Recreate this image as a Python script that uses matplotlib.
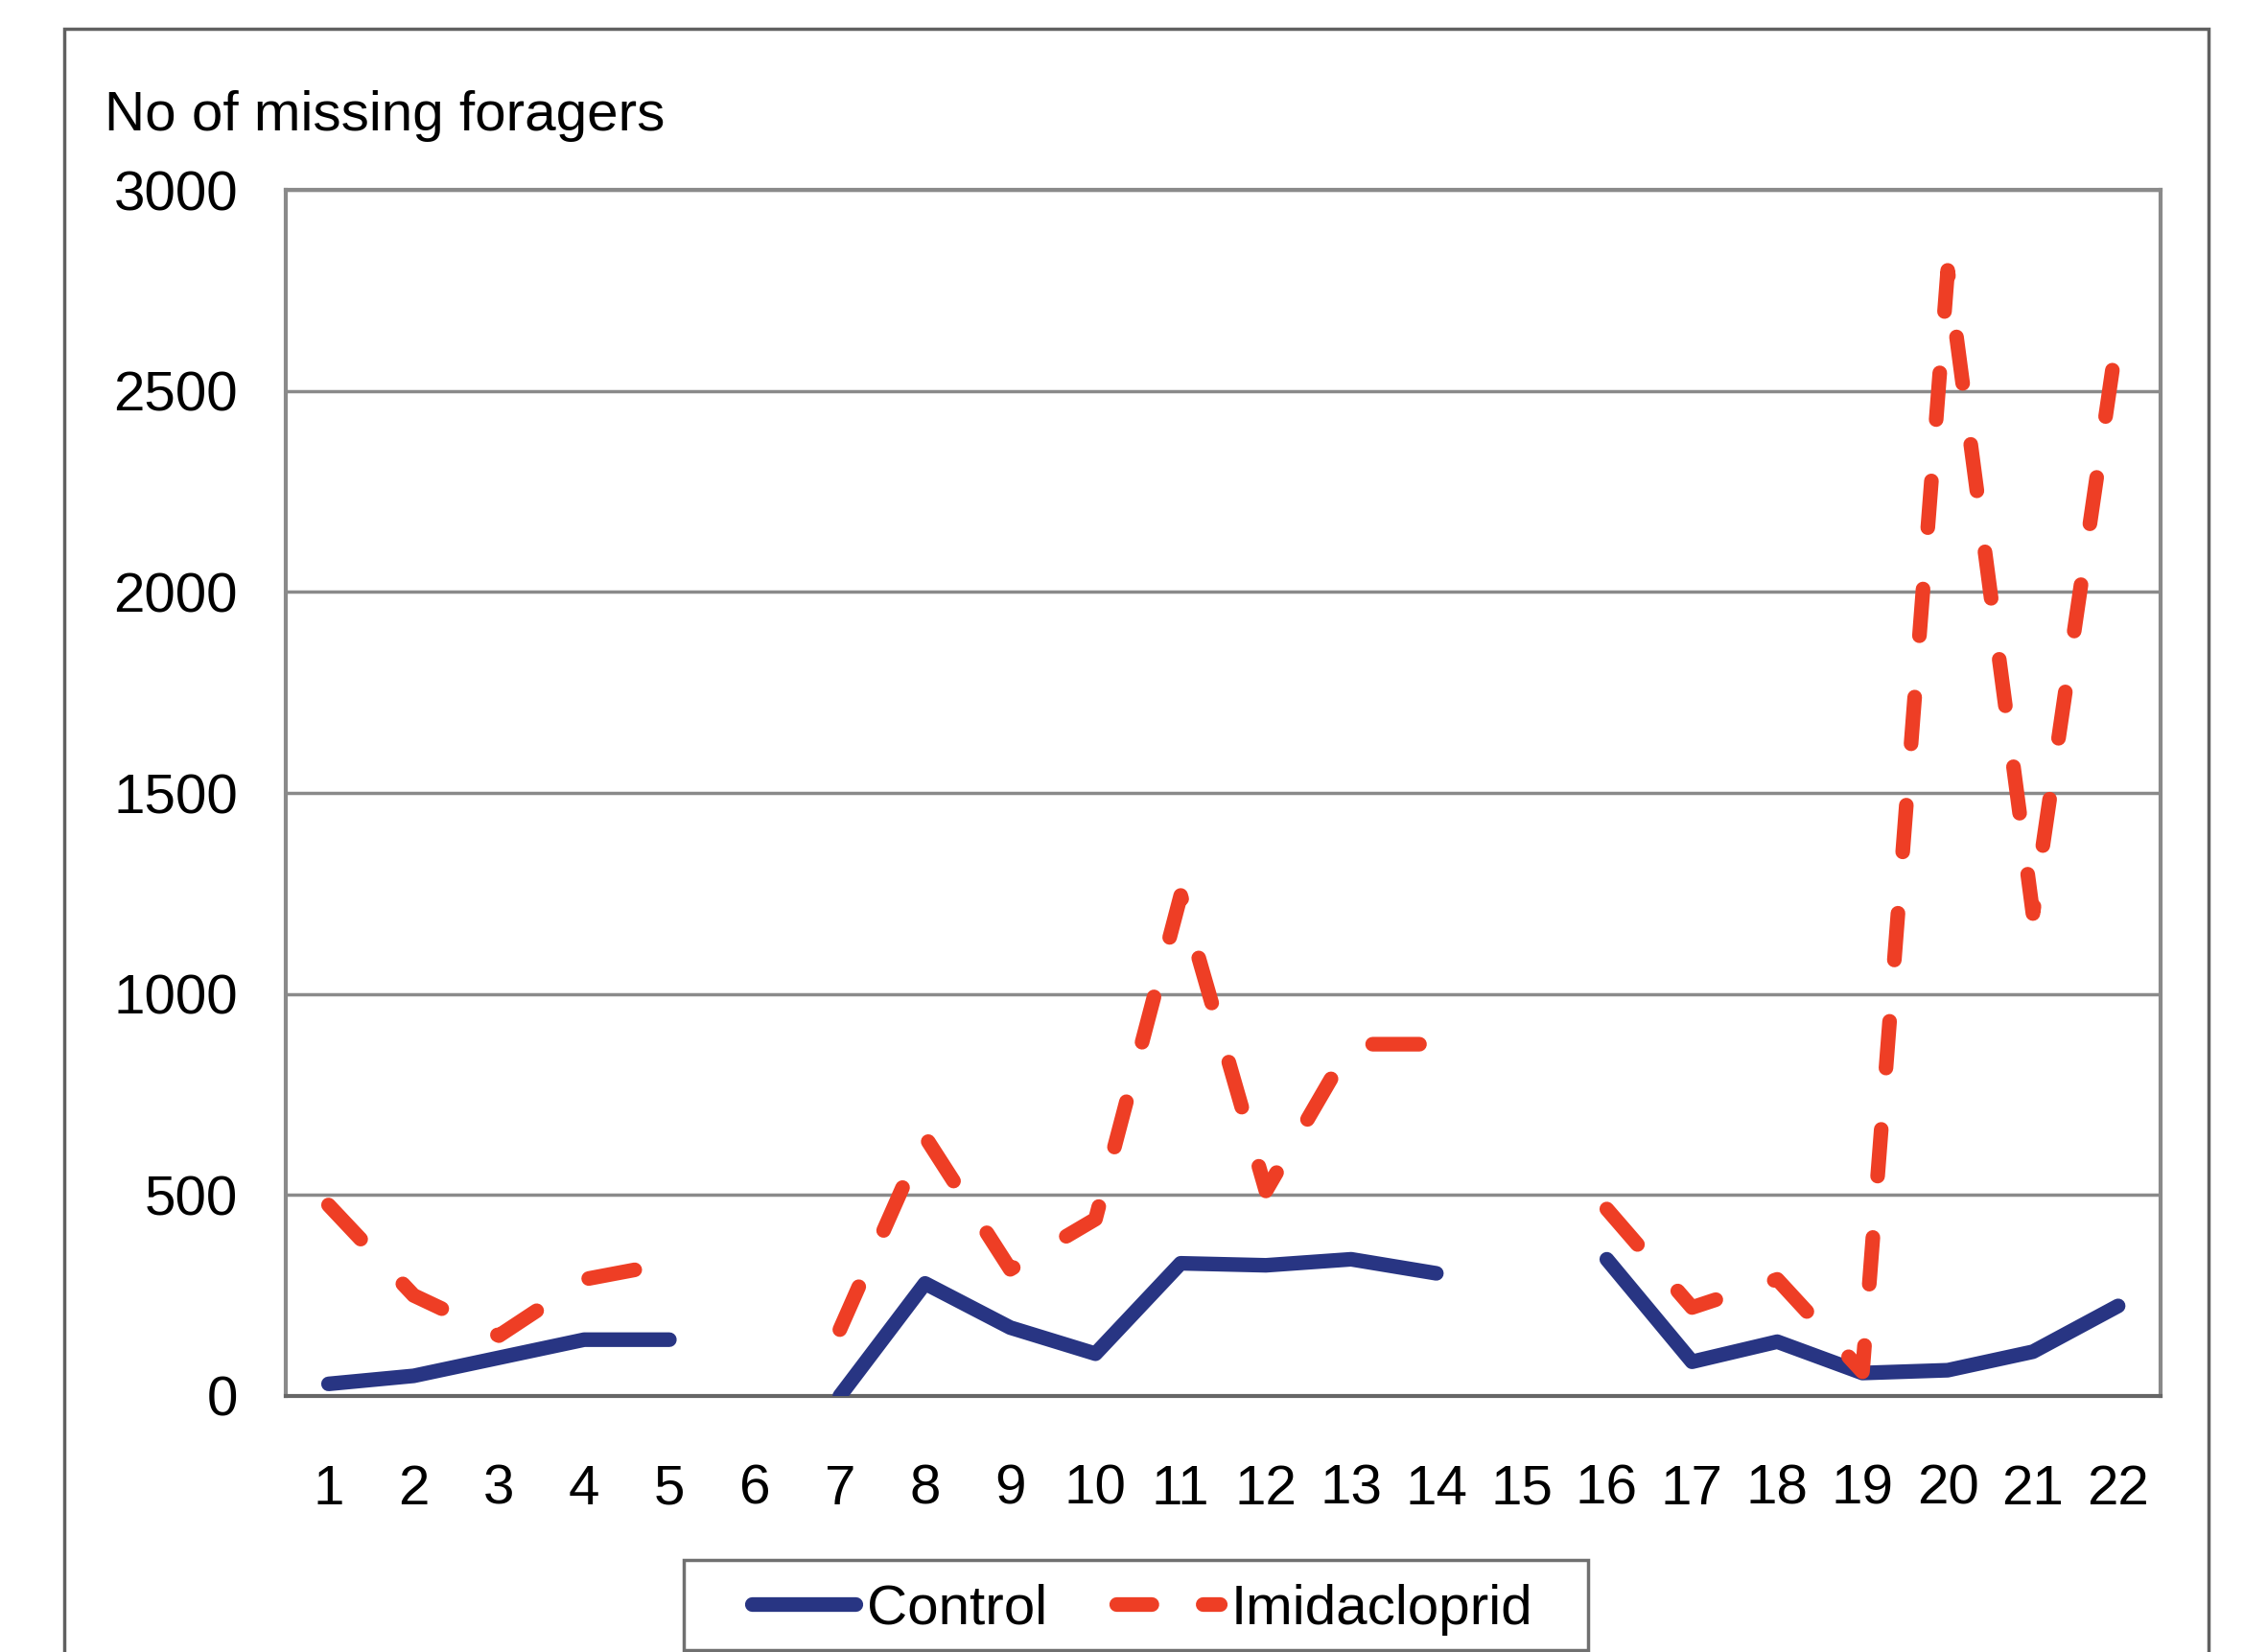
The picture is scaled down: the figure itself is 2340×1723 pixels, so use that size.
import numpy as np
import matplotlib
matplotlib.use("Agg")
import matplotlib.pyplot as plt
from matplotlib.patches import Rectangle
from matplotlib.lines import Line2D

plt.rcParams['font.family'] = ['Liberation Sans', 'DejaVu Sans']

# colonies 1..22, nan = no data for that colony
colonies = list(range(1, 23))
control = [30, 50, 95, 140, 140, np.nan, 0, 280, 170, 105, 330, 325, 340, 305,
           np.nan, 340, 85, 135, 57, 64, 110, 224]
imidacloprid = [475, 250, 150, 290, 330, np.nan, 165, 645, 315, 440, 1245, 510, 875, 875,
                np.nan, 465, 220, 290, 60, 2800, 1200, 2650]
y_ticks = [0, 500, 1000, 1500, 2000, 2500, 3000]

FS = 42
LW = 11
BLUE = '#283583'
RED = '#ee3e25'
GRID = '#8a8a8a'

fig = plt.figure(figsize=(23.4, 17.23), dpi=100)
ax = fig.add_axes([0.1274, 0.155, 0.8355, 0.730])

x = np.arange(len(colonies))
ax.plot(x, control, color=BLUE, lw=LW, solid_capstyle='round',
        solid_joinstyle='round', zorder=3)
ax.plot(x, imidacloprid, color=RED, lw=LW, dashes=(3.2, 4.2),
        dash_capstyle='round', dash_joinstyle='round', zorder=4)

ax.set_xlim(-0.5, len(colonies) - 0.5)
ax.set_ylim(0, 3000)
ax.set_xticks(x)
ax.set_xticklabels([str(c) for c in colonies])
ax.set_yticks(y_ticks)
ax.set_yticklabels([str(v) for v in y_ticks])
ax.tick_params(length=0, labelsize=FS)
ax.tick_params(axis='y', pad=36)
ax.tick_params(axis='x', pad=51)

ax.yaxis.grid(True, color=GRID, lw=2.5)
ax.set_axisbelow(True)
for side in ax.spines.values():
    side.set_color(GRID)
    side.set_linewidth(3)
ax.spines['bottom'].set_color('#666666')

fig.text(0.0466, 0.930, 'No of missing foragers', fontsize=FS, ha='left', va='center')

# outer frame around the whole chart (open at the bottom edge)
fig.patches.append(Rectangle((0.0286, -0.05), 0.9556, 1.0326, transform=fig.transFigure,
                             fill=False, edgecolor='#606060', lw=2.5, clip_on=False))

# legend box drawn separately so it can be wider than the entries
fig.patches.append(Rectangle((0.3047, 0.0012), 0.403, 0.0546, transform=fig.transFigure,
                             fill=False, edgecolor='#707070', lw=2.5))
handles = [
    Line2D([], [], color=BLUE, lw=LW, solid_capstyle='round'),
    Line2D([], [], color=RED, lw=LW, dashes=(2.4, 3.5), dash_capstyle='round'),
]
fig.legend(handles, ['Control', 'Imidacloprid'], loc='center',
           bbox_to_anchor=(0.509, 0.0256), ncol=2, fontsize=FS,
           frameon=False, handlelength=1.85, handletextpad=0.2, columnspacing=1.23,
           borderpad=0.0)

fig.savefig('out.png', dpi=100)
